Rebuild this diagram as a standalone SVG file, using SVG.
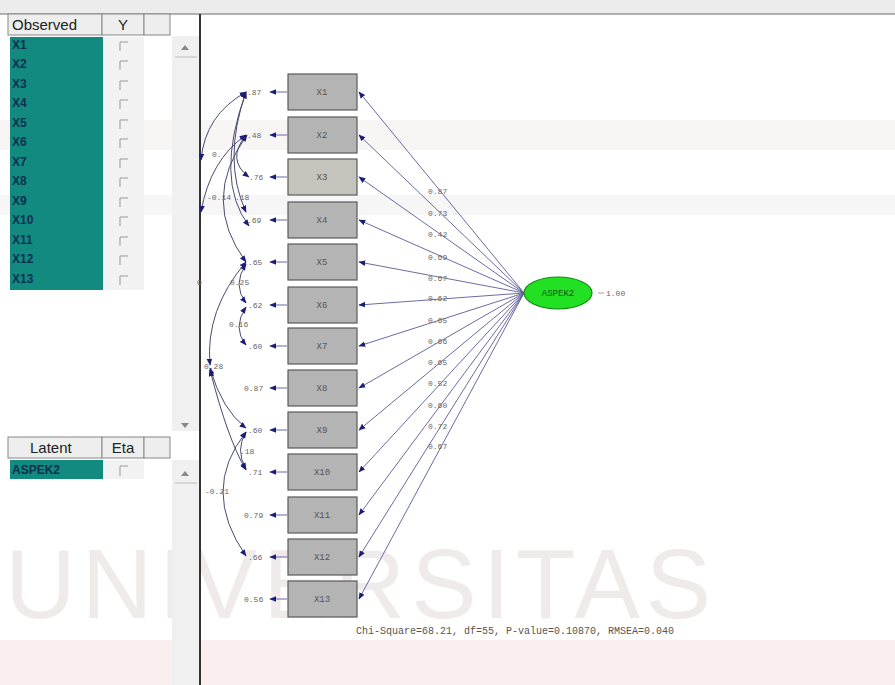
<svg xmlns="http://www.w3.org/2000/svg" width="895" height="685" viewBox="0 0 895 685">
<defs>
<marker id="ah" viewBox="0 0 10 10" refX="9" refY="5" markerWidth="7" markerHeight="7" orient="auto-start-reverse" markerUnits="userSpaceOnUse">
<path d="M0,1 L10,5 L0,9 z" fill="#1c1c7a"/>
</marker>
<style>
.box{fill:#b4b4b4;stroke:#5a5a5a;stroke-width:1.2}
.bt{font-family:"Liberation Mono",monospace;font-size:9px;fill:#555;text-anchor:middle}
.lab{font-family:"Liberation Mono",monospace;font-size:8px;fill:#666}
.ln{stroke:#5a5a9a;stroke-width:0.9;fill:none}
.cv{stroke:#4a4a70;stroke-width:1;fill:none}
.hdr{font-family:"Liberation Sans",Arial,sans-serif;font-size:15px;fill:#222}
.obs{font-family:"Liberation Sans",Arial,sans-serif;font-size:12px;font-weight:bold;fill:#0e3050}
.cb{stroke:#999;stroke-width:1;fill:none}
</style>
</defs>
<rect width="895" height="685" fill="#ffffff"/>
<!-- faint watermark -->
<rect x="0" y="120" width="895" height="30" fill="#f3eeee" opacity="0.6"/>
<rect x="0" y="195" width="895" height="20" fill="#eeeeee" opacity="0.5"/>
<rect x="0" y="640" width="895" height="45" fill="#fbeeee"/>
<text x="5" y="618" font-family="Liberation Sans,Arial,sans-serif" font-size="98" fill="#f0ebeb" letter-spacing="6">UNIVERSITAS</text>
<!-- top bar -->
<rect x="0" y="0" width="895" height="14" fill="#ececec"/>
<line x1="0" y1="14" x2="895" y2="14" stroke="#999" stroke-width="1.5"/>
<g id="observed-panel">
<rect x="8" y="14" width="94" height="21" fill="#eeeeee" stroke="#888"/>
<text x="12" y="30" class="hdr">Observed</text>
<rect x="102" y="14" width="42" height="21" fill="#eeeeee" stroke="#888"/>
<text x="123" y="30" class="hdr" text-anchor="middle">Y</text>
<rect x="144" y="14" width="26" height="21" fill="#eeeeee" stroke="#888"/>
<rect x="10" y="37" width="93" height="253" fill="#128a80"/>
<rect x="103" y="37" width="41" height="253" fill="#f2f2f2"/>
<g class="obs">
<text x="12" y="49">X1</text><text x="12" y="68">X2</text><text x="12" y="88">X3</text><text x="12" y="107">X4</text><text x="12" y="127">X5</text><text x="12" y="146">X6</text><text x="12" y="166">X7</text><text x="12" y="185">X8</text><text x="12" y="205">X9</text><text x="12" y="224">X10</text><text x="12" y="244">X11</text><text x="12" y="263">X12</text><text x="12" y="283">X13</text>
</g>
<g class="cb">
<path d="M120,51 V42 H128"/><path d="M120,70 V61 H128"/><path d="M120,90 V81 H128"/><path d="M120,109 V100 H128"/><path d="M120,129 V120 H128"/><path d="M120,148 V139 H128"/><path d="M120,168 V159 H128"/><path d="M120,187 V178 H128"/><path d="M120,207 V198 H128"/><path d="M120,226 V217 H128"/><path d="M120,246 V237 H128"/><path d="M120,265 V256 H128"/><path d="M120,285 V276 H128"/>
</g>
</g>
<g id="latent-panel">
<rect x="8" y="437" width="94" height="21" fill="#eeeeee" stroke="#888"/>
<text x="30" y="453" class="hdr">Latent</text>
<rect x="102" y="437" width="42" height="21" fill="#eeeeee" stroke="#888"/>
<text x="123" y="453" class="hdr" text-anchor="middle">Eta</text>
<rect x="144" y="437" width="26" height="21" fill="#eeeeee" stroke="#888"/>
<rect x="10" y="460" width="93" height="19" fill="#128a80"/>
<rect x="103" y="460" width="41" height="19" fill="#f2f2f2"/>
<text x="12" y="474" class="obs">ASPEK2</text>
<path d="M120,476 V466 H128" class="cb"/>
</g>
<rect x="172" y="36" width="27" height="395" fill="#f0f0f0"/>
<rect x="172" y="460" width="27" height="225" fill="#f0f0f0"/>
<path d="M181,50 L185,45 L189,50 z" fill="#888"/>
<line x1="175" y1="57" x2="197" y2="57" stroke="#bbb"/>
<path d="M181,423 L185,428 L189,423 z" fill="#888"/>
<path d="M181,476 L185,471 L189,476 z" fill="#888"/>
<line x1="175" y1="483" x2="197" y2="483" stroke="#bbb"/>
<line x1="200" y1="14" x2="200" y2="685" stroke="#333" stroke-width="2"/>
<g id="connectors">
<g class="ln" marker-end="url(#ah)">
<line x1="524" y1="293" x2="359" y2="92"/>
<line x1="524" y1="293" x2="359" y2="135"/>
<line x1="524" y1="293" x2="359" y2="177"/>
<line x1="524" y1="293" x2="359" y2="220"/>
<line x1="524" y1="293" x2="359" y2="262"/>
<line x1="524" y1="293" x2="359" y2="305"/>
<line x1="524" y1="293" x2="359" y2="346"/>
<line x1="524" y1="293" x2="359" y2="388"/>
<line x1="524" y1="293" x2="359" y2="430"/>
<line x1="524" y1="293" x2="359" y2="472"/>
<line x1="524" y1="293" x2="359" y2="515"/>
<line x1="524" y1="293" x2="359" y2="557"/>
<line x1="524" y1="293" x2="359" y2="599"/>
</g>
<g class="ln" marker-end="url(#ah)" stroke="#2a2a7a">
<line x1="287" y1="92" x2="270" y2="92"/>
<line x1="287" y1="135" x2="270" y2="135"/>
<line x1="287" y1="177" x2="270" y2="177"/>
<line x1="287" y1="220" x2="270" y2="220"/>
<line x1="287" y1="262" x2="270" y2="262"/>
<line x1="287" y1="305" x2="270" y2="305"/>
<line x1="287" y1="346" x2="270" y2="346"/>
<line x1="287" y1="388" x2="270" y2="388"/>
<line x1="287" y1="430" x2="270" y2="430"/>
<line x1="287" y1="472" x2="270" y2="472"/>
<line x1="287" y1="515" x2="270" y2="515"/>
<line x1="287" y1="557" x2="270" y2="557"/>
<line x1="287" y1="599" x2="270" y2="599"/>
</g>
<g class="cv" marker-start="url(#ah)" marker-end="url(#ah)">
<path d="M246,92 Q205,115 201,160"/>
<path d="M246,135 Q210,160 201,212"/>
<path d="M246,92 Q222,160 246,212"/>
<path d="M246,135 Q226,160 249,177"/>
<path d="M246,92 Q214,180 249,226"/>
<path d="M247,135 Q200,200 246,262"/>
<path d="M246,264 Q232,285 246,303"/>
<path d="M246,307 Q232,328 246,345"/>
<path d="M246,262 Q205,310 210,365"/>
<path d="M210,368 Q222,410 246,428"/>
<path d="M210,370 Q228,440 246,470"/>
<path d="M246,432 Q235,450 246,469"/>
<path d="M246,432 Q200,490 246,556"/>
</g>
</g>
<g class="lab">
<text x="247" y="95">.87</text><text x="247" y="138">.48</text><text x="249" y="180">.76</text><text x="247" y="223">.69</text>
<text x="248" y="265">.65</text><text x="248" y="308">.62</text><text x="248" y="349">.60</text><text x="244" y="391">0.87</text>
<text x="248" y="433">.60</text><text x="248" y="475">.71</text><text x="244" y="518">0.79</text><text x="248" y="560">.66</text><text x="244" y="602">0.56</text>
<text x="212" y="157">0.</text><text x="207" y="200">-0.14</text><text x="235" y="200">.18</text><text x="197" y="285">0</text>
<text x="230" y="285">0.25</text><text x="229" y="327">0.16</text><text x="204" y="369">0.28</text>
<text x="240" y="454">.18</text><text x="205" y="494">-0.21</text>
</g>
<g class="lab" fill="#777">
<text x="428" y="194">0.87</text><text x="428" y="216">0.73</text><text x="428" y="237">0.42</text><text x="428" y="260">0.69</text>
<text x="428" y="281">0.67</text><text x="428" y="301">0.62</text><text x="428" y="323">0.65</text><text x="428" y="344">0.66</text>
<text x="428" y="365">0.65</text><text x="428" y="386">0.52</text><text x="428" y="408">0.60</text><text x="428" y="429">0.72</text><text x="428" y="449">0.67</text>
</g>
<g id="X1"><rect class="box" x="288" y="74" width="69" height="36"/><text class="bt" x="322" y="95">X1</text></g>
<g id="X2"><rect class="box" x="288" y="117" width="69" height="36"/><text class="bt" x="322" y="138">X2</text></g>
<g id="X3"><rect class="box" x="288" y="159" width="69" height="36" style="fill:#c4c4bc"/><text class="bt" x="322" y="180">X3</text></g>
<g id="X4"><rect class="box" x="288" y="202" width="69" height="36"/><text class="bt" x="322" y="223">X4</text></g>
<g id="X5"><rect class="box" x="288" y="244" width="69" height="36"/><text class="bt" x="322" y="265">X5</text></g>
<g id="X6"><rect class="box" x="288" y="287" width="69" height="36"/><text class="bt" x="322" y="308">X6</text></g>
<g id="X7"><rect class="box" x="288" y="328" width="69" height="36"/><text class="bt" x="322" y="349">X7</text></g>
<g id="X8"><rect class="box" x="288" y="370" width="69" height="36"/><text class="bt" x="322" y="391">X8</text></g>
<g id="X9"><rect class="box" x="288" y="412" width="69" height="36"/><text class="bt" x="322" y="433">X9</text></g>
<g id="X10"><rect class="box" x="288" y="454" width="69" height="36"/><text class="bt" x="322" y="475">X10</text></g>
<g id="X11"><rect class="box" x="288" y="497" width="69" height="36"/><text class="bt" x="322" y="518">X11</text></g>
<g id="X12"><rect class="box" x="288" y="539" width="69" height="36"/><text class="bt" x="322" y="560">X12</text></g>
<g id="X13"><rect class="box" x="288" y="581" width="69" height="36"/><text class="bt" x="322" y="602">X13</text></g>
<g id="ASPEK2">
<ellipse cx="558" cy="293" rx="34" ry="16" fill="#22e022" stroke="#138a13" stroke-width="1.2"/>
<text class="bt" x="558" y="296" style="fill:#145a14">ASPEK2</text>
<text class="lab" x="606" y="296">1.00</text>
<line x1="598" y1="293" x2="604" y2="293" stroke="#888" stroke-width="0.8"/>
</g>
<text x="356" y="634" font-family="Liberation Mono,monospace" font-size="10" fill="#555">Chi-Square=68.21, df=55, P-value=0.10870, RMSEA=0.040</text>
</svg>
